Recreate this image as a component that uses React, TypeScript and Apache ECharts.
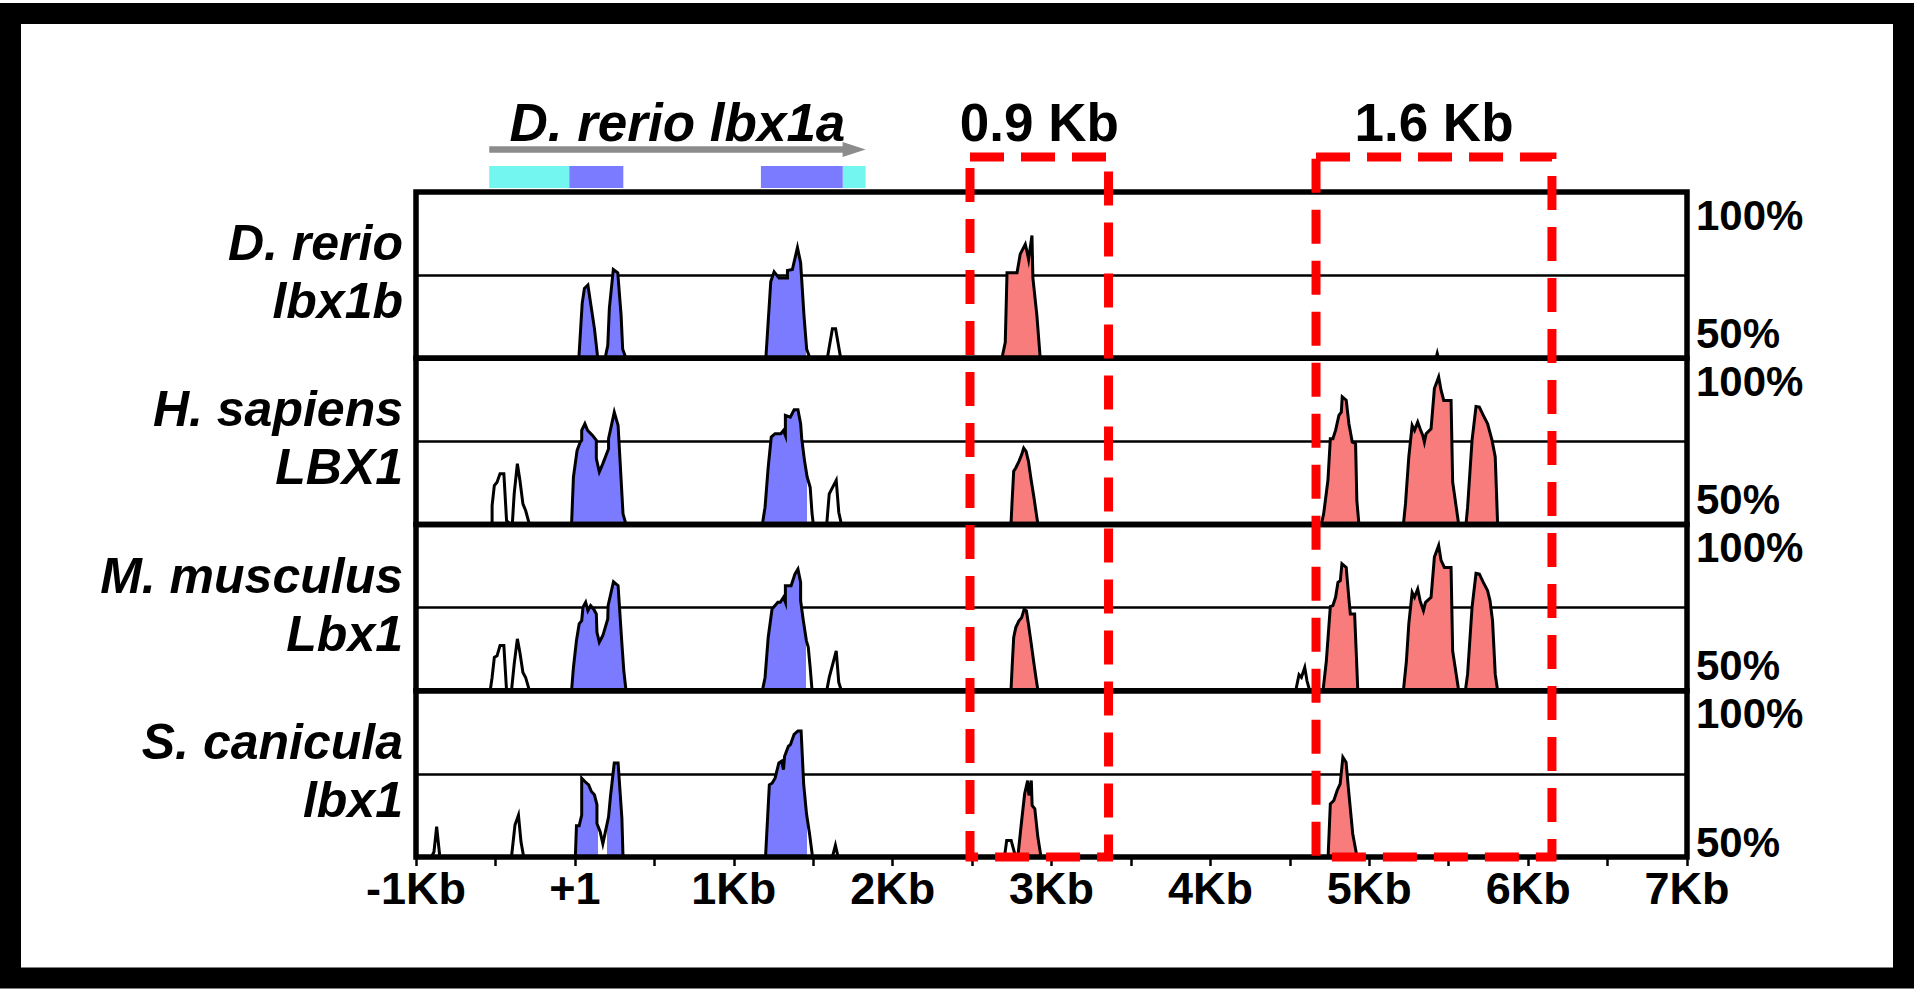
import React, { useEffect, useRef } from 'react';
import * as echarts from 'echarts';

const FONT = '"Liberation Sans", Arial, Helvetica, sans-serif';
const BLUE = '#7B7BFF';
const PINK = '#F87C7C';
const CYAN = '#74F6F0';
const GRAY = '#8C8C8C';

// ---------- axes ----------
const xMin = -1000;
const xMax = 7000;
const xStep = 500;
const xTickLabels = ['-1Kb', '+1', '1Kb', '2Kb', '3Kb', '4Kb', '5Kb', '6Kb', '7Kb'];
const yMin = 50;
const yMax = 100;
const yMid = 25;

// ---------- row names ----------
const speciesLines = [
  ['D. rerio', 'lbx1b'],
  ['H. sapiens', 'LBX1'],
  ['M. musculus', 'Lbx1'],
  ['S. canicula', 'lbx1'],
];

// ---------- conservation profiles [bp, % identity] ----------
const drerioLbx1b = [
  [25, 50], [46, 66.5], [60, 71], [82, 72], [123, 59], [144, 50],
  [190, 50], [207, 53.8], [217, 65], [242, 76.7], [270, 75.7], [291, 62.9], [301, 52.7], [322, 50],
  [1202, 50], [1233, 73.1], [1254, 76], [1285, 74.1], [1338, 74.1], [1338, 76.4], [1369, 76.7], [1401, 83.3], [1421, 78.7], [1442, 62.9], [1459, 52.7], [1480, 50],
  [1589, 50], [1621, 58.9], [1641, 58.9], [1673, 50],
  [2688, 50], [2709, 54.8], [2720, 75.7], [2783, 75.7], [2803, 81.3], [2835, 84.3], [2845, 82.3], [2856, 79.7], [2877, 86.9], [2883, 74.1], [2908, 62.9], [2929, 50],
  [5420, 50], [5428, 51.5], [5436, 50],
];
const hsapiensLBX1 = [
  [-521, 50], [-521, 55.7], [-507, 61.7], [-490, 62.7], [-471, 65.3], [-447, 65.3], [-430, 51.2], [-406, 50],
  [-394, 50], [-382, 59.2], [-362, 68.3], [-346, 63.3], [-327, 56.2], [-310, 54.2], [-286, 50],
  [-21, 50], [-9, 64.3], [14, 72.3], [34, 74.8], [43, 75.3], [43, 78.3], [63, 80.3], [80, 78.3], [111, 76.8], [135, 75.3], [135, 69.8], [154, 65.8], [176, 68.3], [212, 72.8], [212, 75.8], [248, 83.8], [272, 79.8], [303, 53.2], [322, 50],
  [1180, 50], [1197, 55.2], [1217, 67.3], [1236, 76.3], [1260, 77.3], [1296, 77.3], [1313, 78.3], [1325, 76.8], [1325, 82.8], [1356, 82.3], [1380, 84.5], [1404, 84.5], [1421, 80.3], [1428, 75.8], [1445, 69.3], [1462, 64.3], [1481, 61.2], [1493, 53.2], [1501, 50],
  [1585, 50], [1601, 59.2], [1645, 63.3], [1661, 53.7], [1678, 50],
  [2745, 50], [2752, 57], [2762, 66], [2775, 67], [2795, 69], [2812, 71], [2825, 73], [2840, 72], [2855, 69], [2870, 64], [2890, 58], [2905, 53], [2915, 50],
  [4698, 50], [4713, 53.2], [4740, 63.3], [4755, 75.8], [4771, 75.8], [4788, 78.3], [4809, 82.8], [4824, 83.8], [4830, 88.4], [4855, 87.4], [4872, 80.3], [4893, 74.8], [4914, 74.3], [4922, 57.2], [4935, 50],
  [5215, 50], [5228, 56.2], [5249, 70.3], [5270, 79.8], [5285, 78.3], [5305, 80.8], [5320, 78.8], [5337, 76.8], [5347, 74.8], [5358, 77.3], [5389, 78.8], [5410, 90.9], [5437, 94.4], [5452, 90.4], [5469, 87.3], [5515, 87.3], [5525, 62.8], [5563, 50],
  [5609, 50], [5619, 55.2], [5647, 75.3], [5672, 85.5], [5693, 85.3], [5718, 82.8], [5745, 80.3], [5773, 75.3], [5793, 70.3], [5808, 50],
];
const mmusculusLbx1 = [
  [-533, 50], [-521, 54], [-507, 60], [-490, 60.5], [-471, 63.6], [-447, 63.6], [-430, 50],
  [-399, 50], [-382, 58], [-362, 65.6], [-346, 61.5], [-327, 55.5], [-310, 54], [-286, 50],
  [-21, 50], [-9, 57], [10, 65.1], [27, 70.1], [43, 71.1], [51, 75.1], [68, 76.6], [82, 74.1], [99, 75.6], [118, 74.6], [135, 73.1], [139, 67.6], [154, 64.6], [176, 66.6], [207, 71.6], [209, 75.6], [243, 82.8], [272, 81.6], [296, 64.1], [308, 56], [322, 50],
  [1180, 50], [1197, 54], [1217, 66.1], [1241, 74.6], [1260, 75.6], [1277, 76.6], [1293, 76.6], [1313, 78.1], [1325, 76.6], [1325, 81.6], [1361, 81.6], [1385, 85.1], [1404, 86.6], [1421, 82.6], [1421, 77.1], [1438, 71.1], [1457, 65.1], [1469, 63.1], [1481, 57], [1493, 50],
  [1585, 50], [1601, 54], [1626, 58.5], [1645, 62], [1661, 52.5], [1678, 50],
  [2745, 50], [2752, 57], [2762, 66], [2775, 69], [2795, 71], [2812, 72], [2828, 74.5], [2842, 74], [2855, 70], [2870, 65], [2890, 58], [2905, 53], [2915, 50],
  [4537, 50], [4558, 54.8], [4573, 54], [4594, 57], [4608, 53], [4625, 50],
  [4709, 50], [4730, 59], [4755, 75.3], [4771, 75.6], [4788, 78.1], [4803, 82.6], [4818, 83.1], [4828, 88.2], [4855, 87.1], [4872, 77.6], [4881, 73.1], [4908, 73.1], [4922, 57], [4928, 50],
  [5215, 50], [5234, 59], [5249, 70.1], [5270, 79.6], [5285, 78.1], [5305, 80.6], [5320, 77.1], [5341, 74.1], [5354, 76.6], [5389, 78.1], [5410, 90.2], [5437, 93.7], [5452, 89.2], [5473, 87.1], [5515, 87.1], [5525, 62], [5563, 50],
  [5605, 50], [5619, 55], [5647, 75.1], [5672, 85.3], [5693, 85.1], [5718, 82.6], [5745, 80.1], [5760, 77.1], [5776, 71.1], [5793, 55], [5808, 50],
];
const scaniculaLbx1 = [
  [-903, 50], [-887, 51.5], [-870, 59.1], [-850, 50],
  [-399, 50], [-377, 59.6], [-355, 62.6], [-339, 54.5], [-322, 50],
  [3, 50], [10, 59.4], [27, 59.4], [43, 62.6], [43, 73.7], [63, 72.7], [87, 71.7], [104, 69.7], [123, 68.7], [139, 65.7], [139, 60.1], [159, 57.6], [176, 54], [190, 57.1], [212, 62.1], [224, 68.2], [248, 78.3], [272, 78.3], [296, 61.6], [303, 50],
  [1200, 50], [1224, 71.7], [1241, 72.2], [1260, 73.7], [1284, 78.3], [1301, 78.8], [1313, 76.3], [1320, 80.3], [1344, 83.3], [1357, 83.8], [1380, 86.9], [1404, 87.9], [1424, 87.9], [1440, 72], [1458, 63], [1477, 57], [1496, 50],
  [1621, 50], [1640, 53.5], [1657, 50],
  [2704, 50], [2718, 55], [2746, 55], [2774, 50],
  [2788, 50], [2810, 60], [2831, 69], [2850, 73], [2858, 68.5], [2873, 73], [2878, 65.5], [2895, 64.5], [2914, 56], [2934, 50],
  [4741, 50], [4755, 66], [4777, 67], [4798, 70], [4817, 72], [4834, 80], [4854, 78.5], [4868, 71], [4896, 57], [4923, 50],
];

// coloured (above-threshold) stretches [start, end] per row
const exonStretches = [
  [[25, 144], [190, 322], [1202, 1455]],
  [[-21, 322], [1180, 1462]],
  [[-21, 322], [1180, 1457]],
  [[3, 148], [203, 303], [1200, 1460]],
];
const cnsStretches = [
  [[2688, 2929]],
  [[2745, 2915], [4698, 4935], [5215, 5563], [5605, 5808]],
  [[2745, 2915], [4709, 4928], [5215, 5563], [5605, 5808]],
  [[2788, 2934], [4741, 4923]],
];

// ---------- reference gene (D. rerio lbx1a) ----------
const geneName = 'D. rerio lbx1a';
const geneSpan = [-539, 1830];
const geneUtr = [[-539, -35], [1686, 1830]];
const geneExon = [[-35, 305], [1171, 1686]];

// ---------- highlighted regions ----------
const boxRanges = [[2487, 3359], [4665, 6150]];
const boxLabels = ['0.9 Kb', '1.6 Kb'];

const tracks = [drerioLbx1b, hsapiensLBX1, mmusculusLbx1, scaniculaLbx1];

// ---------- layout (pixels) ----------
const GRID_LEFT = 416;
const GRID_WIDTH = 1271;
const TRACK_TOP = 192;
const TRACK_H = 166.25;
const BAR_TOP = 166;
const BAR_BOTTOM = 188;
const ARROW_Y = 149.5;
const TOP_LABEL_Y = 122;
const BOX_TOP = 157;
const BOX_BOTTOM = 857;
const topPad = [46, 46, 46, 46];
const bottomPad = [50, 50, 50, 30];

export default function App() {
  const ref = useRef<HTMLDivElement>(null);

  useEffect(() => {
    if (!ref.current) return;
    const chart = echarts.init(ref.current, null, { renderer: 'svg' });

    const grids: any[] = tracks.map((_, i) => ({
      left: GRID_LEFT,
      width: GRID_WIDTH,
      top: TRACK_TOP + TRACK_H * i,
      height: TRACK_H,
      show: true,
      borderColor: '#000',
      borderWidth: 5.5,
      backgroundColor: 'transparent',
      z: 3,
    }));
    grids.push({ left: GRID_LEFT, width: GRID_WIDTH, top: 0, height: 993, show: false });

    const xAxes: any[] = tracks.map((_, i) => ({
      type: 'value',
      gridIndex: i,
      min: xMin,
      max: xMax,
      interval: xStep,
      show: i === tracks.length - 1,
      axisLine: { show: false },
      axisTick: { show: true, length: 9, lineStyle: { color: '#000', width: 2.5 } },
      splitLine: { show: false },
      axisLabel: {
        margin: 9,
        color: '#000',
        fontSize: 45,
        fontWeight: 'bold',
        fontFamily: FONT,
        formatter: (v: number) => (v % 1000 === 0 ? xTickLabels[Math.round((v - xMin) / 1000)] : ''),
      },
    }));
    xAxes.push({ type: 'value', gridIndex: 4, min: xMin, max: xMax, show: false });

    const yAxes: any[] = tracks.map((_, i) => ({
      type: 'value',
      gridIndex: i,
      min: yMin,
      max: yMax,
      interval: yMid,
      position: 'right',
      axisLine: { show: false },
      axisTick: { show: false },
      splitLine: { show: true, lineStyle: { color: '#000', width: 2.5 } },
      axisLabel: {
        margin: 9,
        color: '#000',
        fontSize: 42,
        fontWeight: 'bold',
        fontFamily: FONT,
        formatter: (v: number) => (v === yMax ? '{t|' + yMax + '%}' : v === yMin ? '{b|' + yMin + '%}' : ''),
        rich: {
          t: { fontSize: 42, fontWeight: 'bold', fontFamily: FONT, color: '#000', padding: [topPad[i], 0, 0, 0] },
          b: { fontSize: 42, fontWeight: 'bold', fontFamily: FONT, color: '#000', padding: [0, 0, bottomPad[i], 0] },
        },
      },
    }));
    yAxes.push({ type: 'value', gridIndex: 4, min: 0, max: 993, inverse: true, show: false });

    const series: any[] = [];
    const visualMaps: any[] = [];
    tracks.forEach((data, i) => {
      series.push({
        type: 'line',
        xAxisIndex: i,
        yAxisIndex: i,
        data,
        symbol: 'none',
        silent: true,
        lineStyle: { width: 0, opacity: 0 },
        areaStyle: { opacity: 1 },
        z: 2,
      });
      series.push({
        type: 'line',
        xAxisIndex: i,
        yAxisIndex: i,
        data,
        symbol: 'none',
        silent: true,
        lineStyle: { color: '#000', width: 3, join: 'miter', miterLimit: 6 },
        z: 2,
      });
      const pieces = [
        ...exonStretches[i].map(([a, b]) => ({ min: a, max: b, color: BLUE })),
        ...cnsStretches[i].map(([a, b]) => ({ min: a, max: b, color: PINK })),
      ].sort((p, q) => p.min - q.min);
      visualMaps.push({
        type: 'piecewise',
        show: false,
        dimension: 0,
        seriesIndex: 2 * i,
        pieces,
        outOfRange: { color: '#ffffff' },
      });
    });

    // gene structure bars
    series.push({
      type: 'custom',
      xAxisIndex: 4,
      yAxisIndex: 4,
      silent: true,
      z: 5,
      encode: { x: [0, 1] },
      data: [...geneUtr.map(([a, b]) => [a, b, 0]), ...geneExon.map(([a, b]) => [a, b, 1])],
      renderItem: (params: any, api: any) => {
        const p = api.coord([api.value(0), BAR_TOP]);
        const q = api.coord([api.value(1), BAR_BOTTOM]);
        return {
          type: 'rect',
          shape: { x: p[0], y: p[1], width: q[0] - p[0], height: q[1] - p[1] },
          style: { fill: api.value(2) === 1 ? BLUE : CYAN },
        };
      },
    });
    // gene arrow and name
    series.push({
      type: 'custom',
      xAxisIndex: 4,
      yAxisIndex: 4,
      silent: true,
      z: 5,
      encode: { x: [0, 1] },
      data: [geneSpan],
      renderItem: (params: any, api: any) => {
        const p = api.coord([api.value(0), ARROW_Y]);
        const q = api.coord([api.value(1), ARROW_Y]);
        const t = api.coord([api.value(0), TOP_LABEL_Y]);
        const head = 23;
        return {
          type: 'group',
          children: [
            { type: 'line', shape: { x1: p[0], y1: p[1], x2: q[0] - head + 2, y2: q[1] }, style: { stroke: GRAY, lineWidth: 6.5 } },
            { type: 'polygon', shape: { points: [[q[0] - head, q[1] - 7.5], [q[0], q[1]], [q[0] - head, q[1] + 7.5]] }, style: { fill: GRAY } },
            {
              type: 'text',
              x: (p[0] + q[0]) / 2,
              y: t[1],
              style: { text: geneName, font: `italic bold 53px ${FONT}`, fill: '#000', align: 'center', verticalAlign: 'middle' },
            },
          ],
        };
      },
    });
    // highlighted boxes
    series.push({
      type: 'custom',
      xAxisIndex: 4,
      yAxisIndex: 4,
      silent: true,
      z: 10,
      encode: { x: [0, 1] },
      data: boxRanges.map(([a, b], k) => [a, b, k]),
      renderItem: (params: any, api: any) => {
        const p = api.coord([api.value(0), BOX_TOP]);
        const q = api.coord([api.value(1), BOX_BOTTOM]);
        const t = api.coord([api.value(0), TOP_LABEL_Y]);
        return {
          type: 'group',
          children: [
            {
              type: 'rect',
              shape: { x: p[0], y: p[1], width: q[0] - p[0], height: q[1] - p[1] },
              style: { fill: 'none', stroke: '#FF0000', lineWidth: 9, lineDash: [34, 17] },
            },
            {
              type: 'text',
              x: (p[0] + q[0]) / 2,
              y: t[1],
              style: { text: boxLabels[api.value(2)], font: `bold 53px ${FONT}`, fill: '#000', align: 'center', verticalAlign: 'middle' },
            },
          ],
        };
      },
    });

    const graphics: any[] = [
      {
        type: 'rect',
        shape: { x: 10.5, y: 13.5, width: 1893, height: 964.5 },
        style: { fill: 'none', stroke: '#000', lineWidth: 21 },
        z: 100,
        silent: true,
      },
    ];
    speciesLines.forEach((lines, i) => {
      const cy = TRACK_TOP + TRACK_H * (i + 0.5);
      graphics.push({
        type: 'text',
        x: 403,
        y: cy - 32,
        silent: true,
        style: { text: lines[0], font: `italic bold 50px ${FONT}`, fill: '#000', align: 'right', verticalAlign: 'middle' },
      });
      graphics.push({
        type: 'text',
        x: 403,
        y: cy + 26,
        silent: true,
        style: { text: lines[1], font: `italic bold 50px ${FONT}`, fill: '#000', align: 'right', verticalAlign: 'middle' },
      });
    });

    chart.setOption({
      animation: false,
      backgroundColor: '#ffffff',
      grid: grids,
      xAxis: xAxes,
      yAxis: yAxes,
      visualMap: visualMaps,
      series,
      graphic: graphics,
    });

    return () => {
      chart.dispose();
    };
  }, []);

  return <div ref={ref} style={{ position: 'fixed', left: 0, top: 0, width: 1920, height: 993 }} />;
}
